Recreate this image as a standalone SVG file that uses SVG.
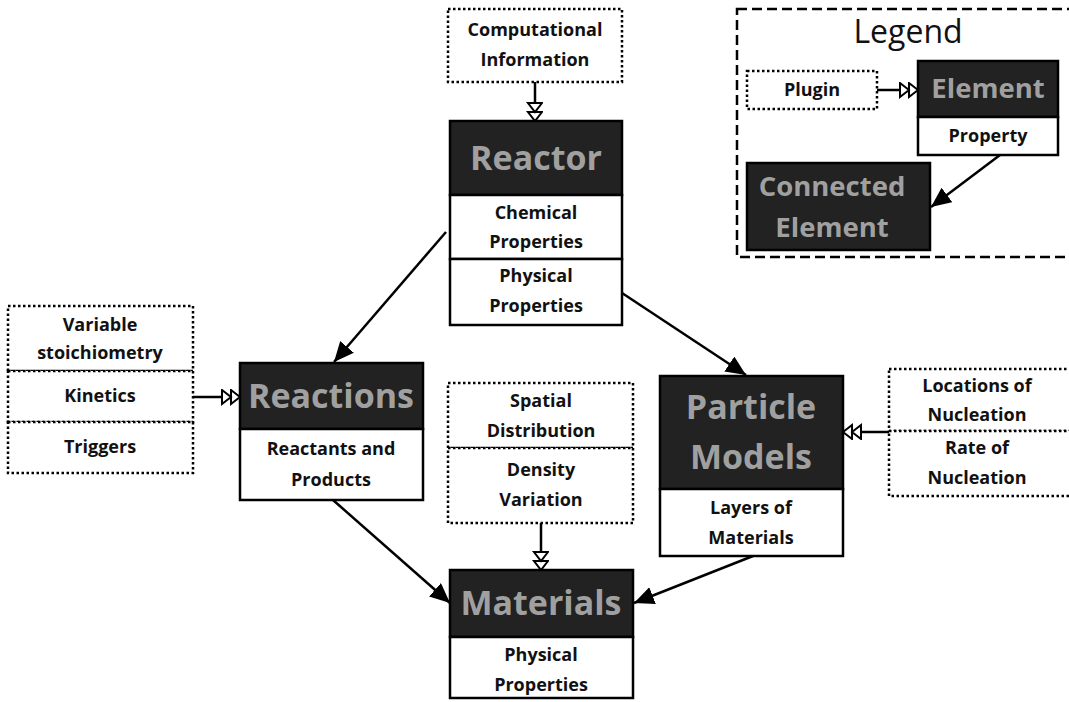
<svg xmlns="http://www.w3.org/2000/svg" width="1069" height="702" viewBox="0 0 1069 702">
<style>
text{font-family:"Open Sans","Lato","Liberation Sans",sans-serif;font-weight:bold;text-anchor:middle;fill:#111;font-variant-ligatures:none}
.t{font-size:18px}
.h{fill:#a0a0a0;font-size:34px}
.hs{fill:#a0a0a0;font-size:27.5px}
.hd{fill:#222;stroke:#000;stroke-width:2.5}
.sec{fill:#fff;stroke:#000;stroke-width:2.5}
.dot{fill:#fff;stroke:#000;stroke-width:2.5;stroke-dasharray:2.5 2.5}
.c{stroke:#000;stroke-width:2.5;fill:none}
.f{marker-end:url(#fa)}
.d{marker-end:url(#da)}
</style>
<defs>
<marker id="fa" markerUnits="userSpaceOnUse" markerWidth="22" markerHeight="20" refX="20" refY="9" orient="auto" viewBox="0 0 22 20"><path d="M0,0 L20,9 L0,18 Z" fill="#000"/></marker>
<marker id="da" markerUnits="userSpaceOnUse" markerWidth="22" markerHeight="18" refX="19" refY="8" orient="auto" viewBox="0 0 22 18"><path d="M1,1 L10,8 L1,15 Z M10,1 L19,8 L10,15 Z" fill="#fff" stroke="#000" stroke-width="2"/></marker>
</defs>

<g id="connectors">
<line class="c d" x1="535" y1="82" x2="535" y2="121"/>
<line class="c f" x1="446" y1="232" x2="334" y2="362"/>
<line class="c f" x1="622" y1="293" x2="746" y2="375"/>
<line class="c f" x1="333" y1="500" x2="450" y2="603"/>
<line class="c f" x1="753" y1="556" x2="634" y2="603"/>
<line class="c d" x1="193" y1="397" x2="240" y2="397"/>
<line class="c d" x1="541" y1="523" x2="541" y2="570"/>
<line class="c d" x1="889" y1="432" x2="843" y2="432"/>
<line class="c d" x1="877" y1="90" x2="918" y2="90"/>
<line class="c f" x1="1000" y1="155" x2="931" y2="207"/>
</g>

<g id="computational">
<rect class="dot" x="448" y="9" width="174" height="73"/>
<text class="t" x="535" y="36">Computational</text>
<text class="t" x="535" y="66">Information</text>
</g>

<g id="reactor">
<rect class="hd" x="450" y="121" width="172" height="74"/>
<text class="h" x="536" y="170">Reactor</text>
<rect class="sec" x="450" y="195" width="172" height="64"/>
<text class="t" x="536" y="219">Chemical</text>
<text class="t" x="536" y="248">Properties</text>
<rect class="sec" x="450" y="259" width="172" height="66"/>
<text class="t" x="536" y="282">Physical</text>
<text class="t" x="536" y="312">Properties</text>
</g>

<g id="legend">
<rect x="737" y="9" width="340" height="248" fill="none" stroke="#000" stroke-width="2.5" stroke-dasharray="10 5"/>
<text x="908" y="43" style="font-size:32px;font-weight:normal">Legend</text>
</g>

<g id="plugin">
<rect class="dot" x="747" y="71" width="130" height="38"/>
<text class="t" x="812" y="96">Plugin</text>
</g>

<g id="element">
<rect class="hd" x="918" y="61" width="140" height="56"/>
<text class="hs" x="988" y="98">Element</text>
<rect class="sec" x="918" y="117" width="140" height="38"/>
<text class="t" x="988" y="142">Property</text>
</g>

<g id="connected">
<rect class="hd" x="747" y="163" width="183" height="87"/>
<text class="hs" x="832" y="196">Connected</text>
<text class="hs" x="832" y="237">Element</text>
</g>

<g id="reaction-plugins">
<rect class="dot" x="8" y="306" width="185" height="65"/>
<text class="t" x="100" y="331">Variable</text>
<text class="t" x="100" y="359">stoichiometry</text>
<rect class="dot" x="8" y="371" width="185" height="51"/>
<text class="t" x="100" y="402">Kinetics</text>
<rect class="dot" x="8" y="422" width="185" height="51"/>
<text class="t" x="100" y="453">Triggers</text>
</g>

<g id="reactions">
<rect class="hd" x="240" y="363" width="183" height="66"/>
<text class="h" x="331" y="408">Reactions</text>
<rect class="sec" x="240" y="429" width="183" height="71"/>
<text class="t" x="331" y="455">Reactants and</text>
<text class="t" x="331" y="486">Products</text>
</g>

<g id="material-plugins">
<rect class="dot" x="448" y="383" width="185" height="65"/>
<text class="t" x="541" y="407">Spatial</text>
<text class="t" x="541" y="437">Distribution</text>
<rect class="dot" x="448" y="448" width="185" height="75"/>
<text class="t" x="541" y="476">Density</text>
<text class="t" x="541" y="506">Variation</text>
</g>

<g id="materials">
<rect class="hd" x="450" y="570" width="183" height="67"/>
<text class="h" x="541" y="615">Materials</text>
<rect class="sec" x="450" y="637" width="183" height="61"/>
<text class="t" x="541" y="661">Physical</text>
<text class="t" x="541" y="691">Properties</text>
</g>

<g id="particle">
<rect class="hd" x="660" y="376" width="183" height="113"/>
<text class="h" x="751" y="419">Particle</text>
<text class="h" x="751" y="469">Models</text>
<rect class="sec" x="660" y="489" width="183" height="67"/>
<text class="t" x="751" y="514">Layers of</text>
<text class="t" x="751" y="544">Materials</text>
</g>

<g id="nucleation-plugins">
<rect class="dot" x="889" y="369" width="190" height="62"/>
<text class="t" x="977" y="392">Locations of</text>
<text class="t" x="977" y="421">Nucleation</text>
<rect class="dot" x="889" y="431" width="190" height="65"/>
<text class="t" x="977" y="454">Rate of</text>
<text class="t" x="977" y="484">Nucleation</text>
</g>
</svg>
